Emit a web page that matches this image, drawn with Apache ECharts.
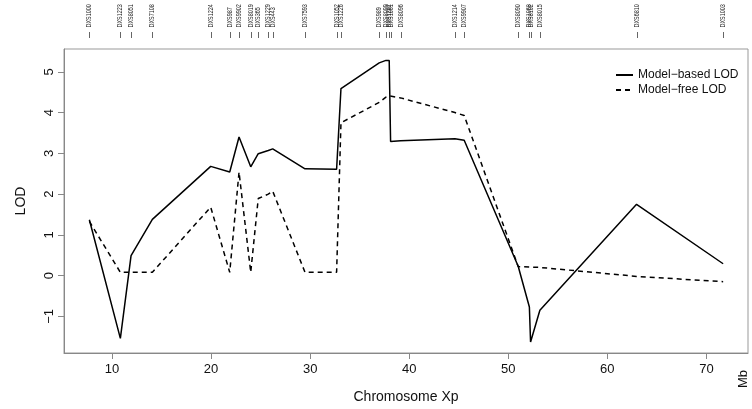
<!DOCTYPE html>
<html>
<head>
<meta charset="utf-8">
<script src="https://cdn.jsdelivr.net/npm/echarts@6/dist/echarts.min.js"></script>
<style>
  html,body{margin:0;padding:0;background:#fff}
  #chart{width:752px;height:409px}
</style>
</head>
<body>
<div id="chart"></div>
<script>
// marker map along Xp (Mb)
var markerNames=['DXS1000','DXS1223','DXS8051','DXS7108','DXS1224','DXS987','DXS9902','DXS8019','DXS365','DXS1229','DXS443','DXS7593',
  'DXS1052','DXS1226','DXS989','DXS8099','DXS1202','DXS1061','DXS8096','DXS1214','DXS9907','DXS8090','DXS1068','DXS8102','DXS8015','DXS6810','DXS1003']
var markerPos=[7.71,10.84,11.92,14.07,19.96,21.88,22.82,24.0,24.76,25.77,26.22,29.48,
  32.67,33.11,36.97,37.65,37.98,38.12,39.13,44.61,45.55,51.0,52.13,52.25,53.19,62.95,71.69]
var modelBased=[1.37,-1.54,0.49,1.38,2.68,2.54,3.40,2.67,2.99,3.07,3.11,2.62,
  2.61,4.59,5.22,5.28,5.28,3.29,3.31,3.36,3.32,0.23,-0.77,-1.63,-0.85,1.75,0.29]
var modelFree=[1.33,0.08,0.08,0.08,1.68,0.08,2.54,0.08,1.89,2.0,2.07,0.08,
  0.08,3.75,4.25,4.38,4.41,4.41,4.36,4.0,3.93,0.22,0.21,0.21,0.2,-0.02,-0.15]
var xTicks=[10,20,30,40,50,60,70]
var yTicks=[-1,0,1,2,3,4,5]

var xMin=5.15,xMax=74.2,yMin=-1.9,yMax=5.56
var font='Liberation Sans'

var chart=echarts.init(document.getElementById('chart'))
var toPairs=function(vals){
    return markerPos.map(function(p,i){return [p,vals[i]]})
}
var minus=function(v){return String(v).replace('-','\u2212')}

chart.setOption({
    animation:false,
    textStyle:{fontFamily:font},
    grid:{left:64,right:4,top:49,bottom:56,show:true,borderColor:'#999',borderWidth:1},
    legend:{
        data:['Model\u2212based LOD','Model\u2212free LOD'],
        orient:'vertical',
        left:610,
        top:64,
        itemWidth:17,
        itemHeight:14,
        itemGap:3,
        itemStyle:{opacity:0},
        textStyle:{fontSize:12,color:'#111',fontFamily:font}
    },
    xAxis:{
        type:'value',
        min:xMin,
        max:xMax,
        name:'Chromosome Xp',
        nameLocation:'middle',
        nameGap:37,
        nameTextStyle:{fontSize:14,color:'#111'},
        axisLine:{onZero:false,lineStyle:{color:'#888'}},
        axisTick:{customValues:xTicks,length:6,lineStyle:{color:'#888'}},
        axisLabel:{customValues:xTicks,fontSize:13,color:'#111',margin:10},
        splitLine:{show:false}
    },
    yAxis:{
        type:'value',
        min:yMin,
        max:yMax,
        name:'LOD',
        nameLocation:'middle',
        nameGap:36,
        nameRotate:90,
        nameTextStyle:{fontSize:14,color:'#111'},
        axisLine:{onZero:false,lineStyle:{color:'#888'}},
        axisTick:{customValues:yTicks,length:6,lineStyle:{color:'#888'}},
        axisLabel:{customValues:yTicks,rotate:90,fontSize:13,color:'#111',margin:8,formatter:minus},
        splitLine:{show:false}
    },
    graphic:[{
        type:'text',
        left:737,
        top:370,
        rotation:Math.PI/2,
        style:{text:'Mb',fontSize:13,fill:'#111',fontFamily:font}
    }],
    series:[
        {
            name:'Model\u2212based LOD',
            type:'line',
            data:toPairs(modelBased),
            symbol:'circle',
            showSymbol:false,
            lineStyle:{color:'#000',width:1.5,type:'solid'},
            itemStyle:{color:'#000'}
        },
        {
            name:'Model\u2212free LOD',
            type:'line',
            data:toPairs(modelFree),
            symbol:'circle',
            showSymbol:false,
            lineStyle:{color:'#000',width:1.5,type:[5,4]},
            itemStyle:{color:'#000'}
        },
        {
            type:'custom',
            clip:false,
            silent:true,
            data:markerPos.map(function(p){return [p,yMax]}),
            renderItem:function(params,api){
                var pt=api.coord([api.value(0),yMax])
                var x=Math.round(pt[0])+0.5
                var top=pt[1]
                return {
                    type:'group',
                    children:[
                        {type:'line',shape:{x1:x,y1:top-17,x2:x,y2:top-11},style:{stroke:'#666',lineWidth:1}},
                        {type:'text',x:x,y:top-21.5,rotation:Math.PI/2,scaleX:0.8,
                            style:{text:markerNames[params.dataIndex],fontSize:6.8,fill:'#222',
                                fontFamily:font,align:'left',verticalAlign:'middle'}}
                    ]
                }
            }
        }
    ]
})
</script>
</body>
</html>
